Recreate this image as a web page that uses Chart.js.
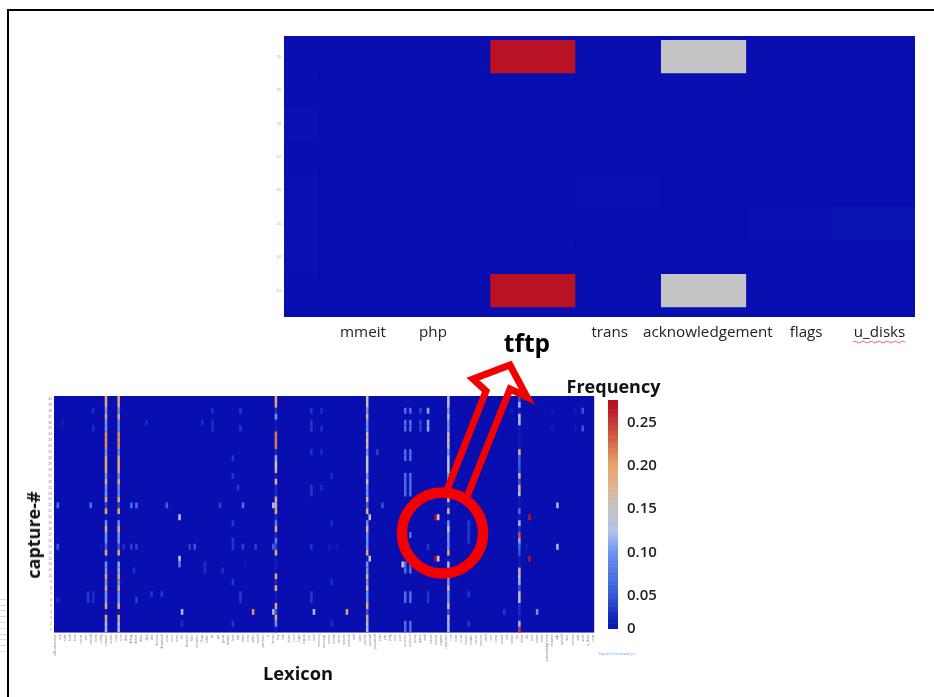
<!DOCTYPE html>
<html><head><meta charset="utf-8">
<script src="https://cdn.jsdelivr.net/npm/chart.js@4"></script>
<style>
html,body{margin:0;padding:0;background:#fff;width:934px;height:697px;overflow:hidden}
canvas{position:absolute;filter:blur(.55px)}
#mainChart{filter:blur(.7px)}
#frame{position:absolute;left:7px;top:9px;width:930px;height:700px;border-left:2px solid #000;border-top:2px solid #000}
#hair{position:absolute;left:0;top:594px;width:7px;height:58px;background:repeating-linear-gradient(#fff 0 4.8px,#ddd 4.8px 5.8px)}
#vocab{position:absolute;left:599px;top:651px;font:4px "Open Sans";color:#5f9bf0;white-space:nowrap}
#captureTitle{position:absolute;left:32.5px;top:535px;transform:translate(-50%,-50%) rotate(-90deg);font:700 18px "Open Sans";color:#111;white-space:nowrap;filter:blur(.4px)}
svg{position:absolute;left:0;top:0}
</style></head><body>
<div id="frame"></div><div id="hair"></div>
<canvas id="zoomChart"></canvas>
<canvas id="mainChart"></canvas>
<canvas id="barChart"></canvas>
<div id="vocab">Export Vocabulary »</div>
<div id="captureTitle">capture-#</div>
<svg width="934" height="697">
<path d="M853 342q2-2 4 0t4 0t4 0t4 0t4 0t4 0t4 0t4 0t4 0t4 0t4 0t4 0t4 0" fill="none" stroke="#e86a6a" stroke-width="1"/>
<path d="M447 490 L486 391 L473 379 L510 365 L527 397 L510 389 L467 497" fill="none" stroke="#f40000" stroke-width="7" stroke-linejoin="miter"/>
<circle cx="442.5" cy="533" r="40.5" fill="none" stroke="#f40000" stroke-width="10.5"/>
</svg>
<script>
// ---- Zoomed heatmap data
const zoomRowLabels=[20,19,18,17,16,15,14,13];
const zoomRow20=[0,0,0,0.27,0,0.15,0,0];
const zoomRow19=[0,0,0,0,0,0,0,0];
const zoomRow18=[0.003,0,0,0,0,0,0,0];
const zoomRow17=[0,0,0,0,0,0,0,0];
const zoomRow16=[0.002,0,0,0,0.002,0,0,0];
const zoomRow15=[0.001,0,0,0,0,0,0.002,0.008];
const zoomRow14=[0.002,0,0,0,0,0,0,0];
const zoomRow13=[0,0,0,0.27,0,0.15,0,0];
const zoomLabels=["mmeit","php","tftp","trans","acknowledgement","flags","u_disks"];
const zoomLabelAt=[1.01,1.83,2.93,3.9,5.05,6.2,7.06];

// ---- Main heatmap data: full lines (top row first, capture 40 to capture 1)
const captureLabels=[40,39,38,37,36,35,34,33,32,31,30,29,28,27,26,25,24,23,22,21,20,19,18,17,16,15,14,13,12,11,10,9,8,7,6,5,4,3,2,1];
const captureLine20=[.2,.2,.1,.2,.1,.1,.21,.21,.21,.1,.2,.2,.2,.1,.2,.1,.1,.2,.04,.2,.02,.1,.2,.1,.1,.06,.2,.02,.1,.1,.2,.1,.2,.1,.1,.2,.02,.2,.12,.12];
const captureLine25=[.2,.2,.09,.2,.09,.09,.21,.21,.21,.09,.2,.2,.2,.09,.2,.09,.09,.2,.04,.2,.02,.1,.2,.1,.1,.05,.2,.02,.11,.11,.2,.1,.2,.1,.1,.2,.02,.2,.12,.12];
const captureLine87=[.2,.2,.03,.1,.02,.02,.22,.22,.22,.03,.11,.15,.18,.02,.18,.03,.03,.2,.12,.2,.03,.08,.2,.03,.08,.04,.2,.02,.02,.02,.2,.03,.2,.02,.02,.2,.05,.2,.1,.02];
const captureLine123=[.16,.16,.1,.18,.1,.1,.16,.16,.16,.1,.15,.15,.15,.1,.16,.1,.1,.17,.06,.18,.02,.1,.18,.1,.1,.1,.19,.02,.1,.1,.18,.1,.18,.1,.1,.19,.05,.19,.12,.12];
const captureLine155=[.16,.16,.1,.16,.1,.1,.16,.16,.16,.1,.15,.15,.15,.1,.16,.1,.1,.17,.03,.18,.02,.1,.14,.1,.1,.1,.2,.02,.12,.12,.17,.1,.17,.1,.1,.17,.05,.17,.12,.12];
const captureLine183=[.05,.12,.02,.13,.13,.02,.02,.02,.02,.18,.06,.06,.05,.17,.05,.18,.14,.02,.02,.07,.02,.12,.03,.24,.11,.06,.05,.02,.02,.18,.14,.12,.05,.16,.13,.03,.03,.02,.12,.25];
// Sparse cells: column, rows from the top, value
const sparseCells=[
[1,[18],.07],[1,[25],.05],[1,[34],.03],[3,[4],.02],[13,[33,34],.035],[14,[18],.07],[15,[33,34],.03],[15,[2,5],.03],
[18,[25],.02],[27,[25],.03],[30,[18],.07],[30,[25],.04],[32,[18],.07],[32,[25,34],.04],[31,[29],.03],[36,[4],.03],
[38,[33],.035],[42,[33],.035],[44,[18],.06],[49,[20],.14],[49,[27],.15],[49,[28],.08],[50,[36],.12],[50,[38],.03],
[53,[25],.04],[55,[25],.05],[58,[4],.03],[59,[28,29],.03],[62,[2,4,5],.03],[65,[18],.04],[66,[29],.03],
[70,[10,13,21,24,25,31,38],.035],[72,[15],.035],[73,[2,5,33,34],.035],[74,[18],.07],[74,[25],.04],[75,[28],.02],
[78,[36],.21],[79,[25],.04],[86,[18],.14],[86,[25],.06],[86,[36],.12],[101,[2,4,5,9,15,16,25,33,34],.035],[102,[36],.12],
[105,[2,5,9,15],.03],[108,[25],.02],[109,[13,21,31,38],.03],[111,[25],.02],[115,[36],.2],[124,[20,27],.14],
[127,[9],.04],[129,[18],.05],[137,[28],.15],[138,[2,4,5,9,10,13,14,15,16,28,29,33,34,38,39],.07],
[140,[2,4,5,9,10,13,14,15,16,23,28,29,33,34,38,39],.07],[144,[2,4,5],.04],[147,[2,4,5],.11],[147,[25,33,34],.035],
[150,[20,27],.27],[151,[20,27],.15],[163,[21,22,23,24,33,38],.035],[177,[36],.035],[180,[2],.02],[186,[25],.02],
[187,[20,27],.27],[190,[36],.1],[196,[2,5],.02],[198,[18,25],.12],[205,[2,5],.02],[208,[2,5],.05]
];
const lexiconWords=["administration","ack","auth","bind","boot","cache","cert","chmod","client","config","connect","cookie","copy","cron","data","debug","delete","dhcp","disk","dns","domain","download","echo","error","exec","file","filename","filter","firmware","flags","folder","ftp","get","group","header","host","http","https","icmp","index","install","interface","ip","kernel","key","link","listen","local","login","logout","mac","mail","memory","message","mmeit","mount","name","netstat","network","null","open","packet","passwd","password","path","php","ping","port","post","process","protocol","proxy","query","read","reboot","remote","request","response","root","route","script","secure","sender","server","session","shell","size","smtp","socket","ssh","status","tcp","telnet","tftp","time","token","trans","acknowledgement","transfer","udp","upload","user","version","web","write","u_disks","zone"];
const columnCount=213;

// ---- Colour bar
const barTicks=[.0115,.05,.1,.15,.2,.25];
const barTickLabels=["0","0.05","0.10","0.15","0.20","0.25"];
const colorStops=[[0,[9,14,176]],[.02,[14,28,184]],[.05,[51,88,213]],[.1,[109,148,240]],[.125,[181,195,232]],[.15,[196,196,196]],[.175,[222,181,147]],[.2,[230,165,108]],[.23,[207,100,72]],[.27,[184,18,36]],[.3,[184,18,36]]];

function heatColor(v){
  for(let i=1;i<colorStops.length;i++){
    if(v<=colorStops[i][0]){
      const [a,ca]=colorStops[i-1],[b,cb]=colorStops[i],t=(v-a)/(b-a);
      return `rgb(${ca.map((c,k)=>Math.round(c+(cb[k]-c)*t)).join(",")})`;
    }
  }
  return "rgb(184,18,36)";
}
const plotBackground={id:"plotBackground",beforeDatasetsDraw(c){
  const a=c.chartArea,g=c.ctx;g.save();g.fillStyle=heatColor(0);g.fillRect(a.left,a.top,a.width,a.height);g.restore();}};
function place(id,l,t,r,b){const e=document.getElementById(id);e.width=r-l;e.height=b-t;e.style.left=l+"px";e.style.top=t+"px";return e;}
const common={responsive:false,animation:false,devicePixelRatio:1,events:[]};
const offLegend={legend:{display:false},tooltip:{enabled:false}};
const noGrid={display:false,drawTicks:false};
const cellStyle={barPercentage:1,categoryPercentage:1,grouped:false,borderWidth:0,inflateAmount:0,
  backgroundColor:c=>heatColor(c.raw.v)};

// ---- Zoom chart: plot 284..915 x 36..317
const zoomRows=[zoomRow20,zoomRow19,zoomRow18,zoomRow17,zoomRow16,zoomRow15,zoomRow14,zoomRow13];
const zoomCells=[];
zoomRows.forEach((row,r)=>row.forEach((v,c)=>zoomCells.push({x:c,y:[zoomRowLabels[r]-.5,zoomRowLabels[r]+.5],v})));
const zoomMinX=.085,zoomMaxX=7.475;
new Chart(place("zoomChart",270,26,925,360),{type:"bar",plugins:[plotBackground],
  data:{datasets:[{...cellStyle,data:zoomCells,barThickness:631/(zoomMaxX-zoomMinX)}]},
  options:{...common,layout:{padding:{top:10,right:10}},plugins:offLegend,
  scales:{
    x:{type:"linear",offset:false,min:zoomMinX,max:zoomMaxX,grid:noGrid,border:{display:false},
      afterBuildTicks(s){s.ticks=zoomLabelAt.map(value=>({value}));},
      afterFit(s){s.height=43;},
      ticks:{autoSkip:false,maxRotation:0,minRotation:0,padding:7,
        callback:(v,i)=>zoomLabels[i],
        font:c=>c.index===2?{family:"Open Sans",size:24.5,weight:"700",lineHeight:1.7}:{family:"Open Sans",size:15.2,lineHeight:1.2},
        color:c=>c.index===2?"#000":"#222"}},
    y:{min:12.21,max:20.62,grid:noGrid,border:{display:false},afterFit(s){s.width=14;},
      ticks:{stepSize:1,includeBounds:false,autoSkip:false,padding:3,color:"#aaa",font:{size:4}}}
  }}});

// ---- Main chart: plot 54..594 x 396..632.5
const mainCells=[];
const lines=[[20,captureLine20],[25,captureLine25],[87,captureLine87],[123,captureLine123],[155,captureLine155],[183,captureLine183]];
lines.forEach(([col,vals])=>vals.forEach((v,i)=>mainCells.push({x:col,y:[39.5-i,40.5-i],v})));
sparseCells.forEach(([col,rows,v])=>rows.forEach(i=>mainCells.push({x:col,y:[39.5-i,40.5-i],v})));
new Chart(place("mainChart",-3,373,599,697),{type:"bar",plugins:[plotBackground],
  data:{datasets:[{...cellStyle,data:mainCells,barThickness:540/columnCount}]},
  options:{...common,layout:{padding:{top:23}},
  plugins:{...offLegend,
    title:{display:true,text:"Lexicon",position:"bottom",color:"#111",font:{family:"Open Sans",size:18.3,weight:"700",lineHeight:1.2},padding:{top:0,bottom:11}}},
  scales:{
    x:{type:"linear",offset:false,min:-.5,max:columnCount-.5,grid:noGrid,border:{display:false},afterFit(s){s.height=31.5;},
      afterBuildTicks(s){s.ticks=lexiconWords.map((w,i)=>({value:i*2}));},
      ticks:{autoSkip:false,maxRotation:90,minRotation:90,padding:2,color:"#8a8a8a",callback:(v,i)=>lexiconWords[i],font:{family:"Liberation Sans",size:3.4}}},
    y:{min:.5,max:40.5,grid:noGrid,border:{display:false},afterFit(s){s.width=57;},
      afterBuildTicks(s){s.ticks=captureLabels.map(value=>({value}));},
      ticks:{autoSkip:false,padding:2,color:"#8a8a8a",font:{family:"Liberation Sans",size:3.4}}}
  }}});

// ---- Colour bar: plot 608..618 x 400..629
const barLevels=[];
for(let v=.0115;v<.276;v+=.003)barLevels.push(v);
new Chart(place("barChart",560,372,667,647),{type:"bar",
  data:{labels:["Frequency"],datasets:[{...cellStyle,yAxisID:"y",barThickness:10,data:barLevels.map(v=>({x:"Frequency",y:[v,Math.min(v+.0036,.276)],v:v+.0015}))}]},
  options:{...common,layout:{padding:{bottom:11}},
  plugins:{...offLegend,
    title:{display:true,text:"Frequency",color:"#111",font:{family:"Open Sans",size:18,weight:"700",lineHeight:1.2},padding:{top:5.5,bottom:.9}}},
  scales:{
    x:{display:false},
    spacer:{position:"left",grid:noGrid,border:{display:false},ticks:{display:false},afterFit(s){s.width=48;}},
    y:{position:"right",min:.0115,max:.276,grid:noGrid,border:{display:false},afterFit(s){s.width=49;},
      afterBuildTicks(s){s.ticks=barTicks.map(value=>({value}));},
      ticks:{autoSkip:false,padding:9,color:"#222",callback:(v,i)=>barTickLabels[i],font:{family:"Open Sans",size:15,weight:"600"}}}
  }}});
</script>
</body></html>
